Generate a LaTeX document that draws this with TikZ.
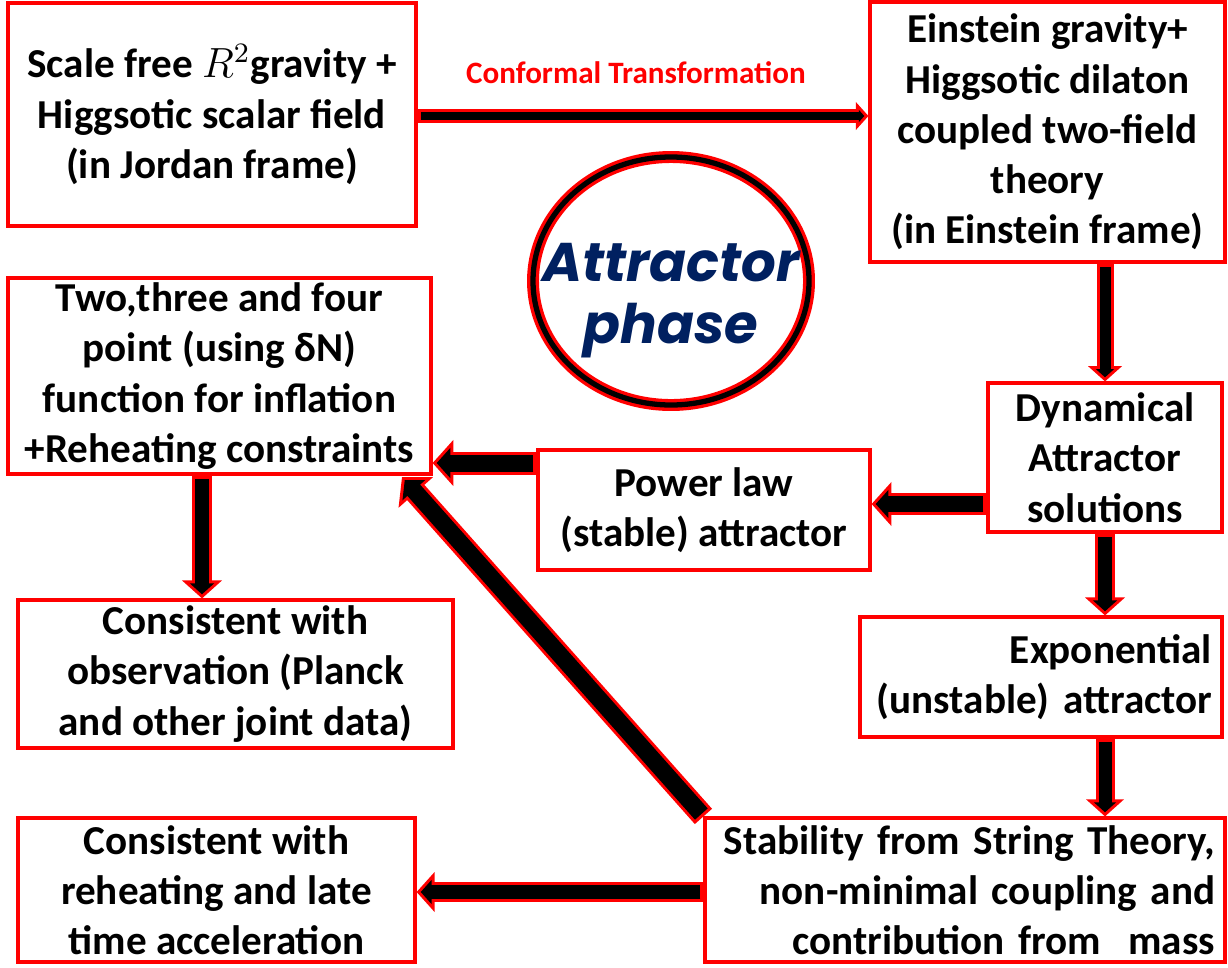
\documentclass[tikz,border=0pt]{standalone}
\usepackage{fontspec}
\setmainfont{Carlito}
\newfontfamily\phasefont{Poppins}
\usepackage{tikz}
\usetikzlibrary{arrows.meta,shapes.geometric,positioning}
\definecolor{navy}{RGB}{0,32,96}
\tikzstyle{box}=[draw=red, line width=0.9pt, rectangle, align=center, inner sep=0pt,
  font=\bfseries\fontsize{11.7}{14.3}\selectfont]
\tikzstyle{rbox}=[box, align=right, inner xsep=1.0mm]
\tikzstyle{ring}=[ellipse, draw=black, line width=1.5pt, preaction={draw=red, line width=3.4pt},
  minimum width=2.76cm, minimum height=2.48cm, inner sep=0pt]
\tikzstyle{phasetext}=[align=center, text=navy, font=\phasefont\bfseries\itshape\fontsize{15.5}{17.6}\selectfont]
\tikzstyle{conftext}=[text=red, font=\bfseries\fontsize{8.85}{10}\selectfont]

% block arrow: black shaft with red rim, #1 = shaft width in px
\newcommand{\blockarrow}[3][20]{%
  \pgfmathsetmacro{\baw}{#1*0.2845}%
  \pgfmathsetmacro{\bab}{(#1-6)*0.2845}%
  \pgfmathsetmacro{\bahw}{1.95*#1*0.2845}%
  \pgfmathsetmacro{\bahl}{0.9*#1*0.2845}%
  \pgfmathsetmacro{\babl}{(0.9*#1-7.1)*0.2845}%
  \pgfmathsetmacro{\babw}{\bahw*\babl/\bahl}%
  \draw[red, line width=\baw pt, -{Triangle[length=\bahl pt, width=\bahw pt]}] (#2) -- (#3);
  \draw[black, line width=\bab pt, shorten <=0.9pt, shorten >=1.17pt,
    -{Triangle[length=\babl pt, width=\babw pt]}] (#2) -- (#3);}

\begin{document}
\begin{tikzpicture}
  \useasboundingbox[fill=white] (0,0) rectangle (12.28,-9.67);

  \node[box, minimum width=4.08cm, minimum height=2.23cm] (jordan) at (2.12,-1.145)
    {Scale free $R^2$gravity +\\Higgsotic scalar field\\(in Jordan frame)};
  \node[box, minimum width=3.55cm, minimum height=2.60cm] (einstein) at (10.475,-1.32)
    {Einstein gravity+\\Higgsotic dilaton\\coupled two-field\\theory\\(in Einstein frame)};
  \node[ring] (phase) at (6.71,-2.81) {};
  \node[phasetext] (phasename) at ([yshift=-2mm]phase.center) {Attractor\\phase};
  \node[box, minimum width=4.23cm, minimum height=1.96cm] (npoint) at (2.195,-3.76)
    {Two,three and four\\point (using δN)\\function for inflation\\+Reheating constraints};
  \node[box, minimum width=2.34cm, minimum height=1.49cm] (dyn) at (11.05,-4.575)
    {Dynamical\\Attractor\\solutions};
  \node[box, minimum width=3.32cm, minimum height=1.20cm] (power) at (7.04,-5.10)
    {Power law\\(stable) attractor};
  \node[box, minimum width=4.35cm, minimum height=1.48cm] (obs) at (2.355,-6.74)
    {Consistent with\\observation (Planck\\and other joint data)};
  \node[rbox, text width=3.42cm, minimum height=1.20cm] (expo) at (10.41,-6.77)
    {Exponential\\(unstable) attractor};
  \node[rbox, text width=5.0cm, minimum height=1.44cm] (stab) at (9.65,-8.90)
    {Stability from String Theory,\\non-minimal coupling and\\contribution from\ \ mass};
  \node[box, minimum width=3.97cm, minimum height=1.44cm] (reheat) at (2.165,-8.90)
    {Consistent with\\reheating and late\\time acceleration};
  \node[conftext] (conf) at (6.36,-0.73) {Conformal Transformation};
  \coordinate (diagtip) at (4.02,-4.77);

  \blockarrow[14]{[yshift=-0.15mm]jordan.east}{[yshift=-0.15mm]jordan.east -| einstein.west}
  \blockarrow[17]{einstein.south -| dyn.north}{dyn.north}
  \blockarrow[22]{[yshift=0.6mm]power.east -| dyn.west}{[yshift=0.6mm]power.east}
  \blockarrow[23]{[yshift=4.7mm]power.west}{[yshift=4.7mm]power.west -| npoint.east}
  \blockarrow[20]{[xshift=-1.75mm]npoint.south}{[xshift=-1.75mm]npoint.south |- obs.north}
  \blockarrow[20]{dyn.south}{dyn.south |- expo.north}
  \blockarrow[19]{expo.south -| dyn.south}{stab.north -| dyn.south}
  \blockarrow[23]{stab.north west}{diagtip}
  \blockarrow[20]{[yshift=-0.2mm]stab.west}{[yshift=-0.2mm]stab.west -| reheat.east}
\end{tikzpicture}
\end{document}
